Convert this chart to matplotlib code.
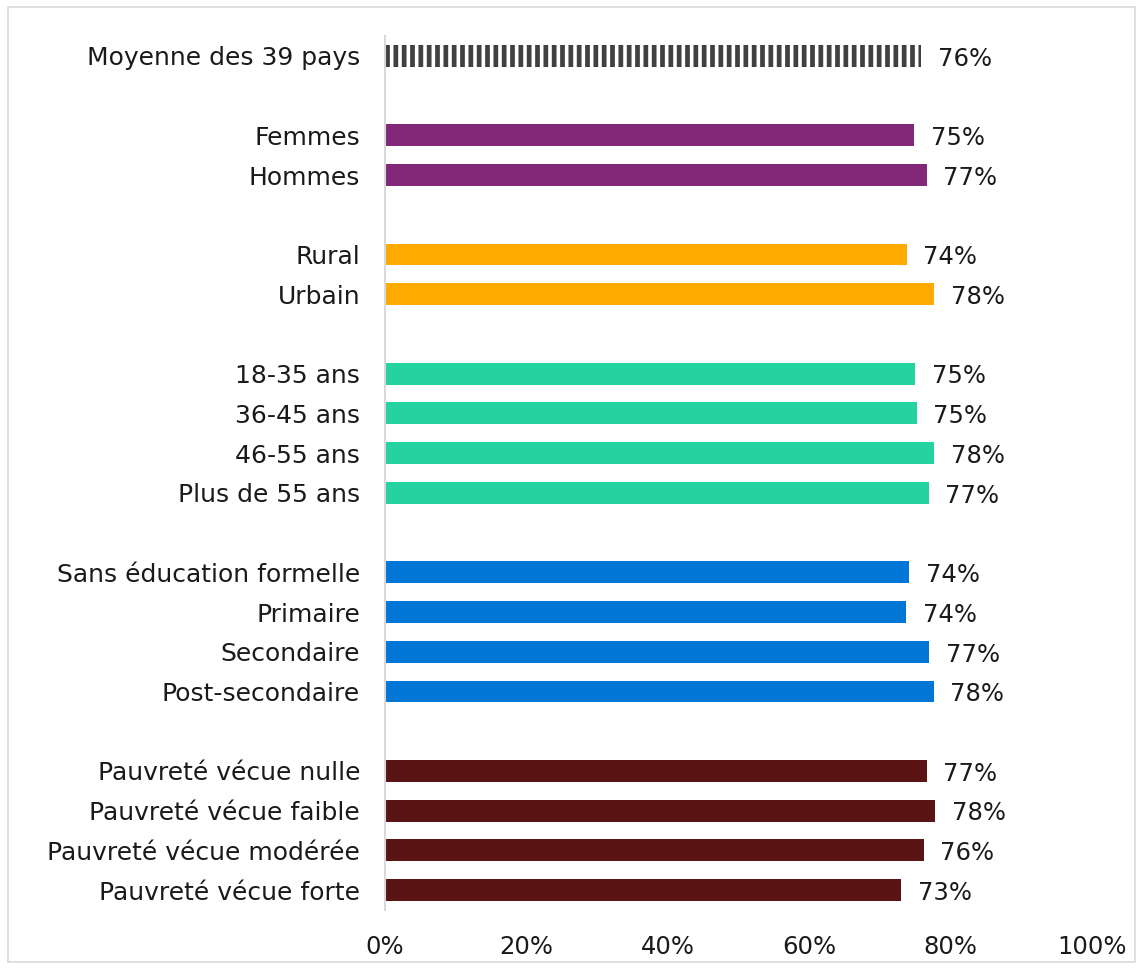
import matplotlib
matplotlib.use("Agg")
import matplotlib.pyplot as plt
from matplotlib.patches import Rectangle

categories = ["Moyenne des 39 pays",
              "Femmes", "Hommes",
              "Rural", "Urbain",
              "18-35 ans", "36-45 ans", "46-55 ans", "Plus de 55 ans",
              "Sans éducation formelle", "Primaire", "Secondaire", "Post-secondaire",
              "Pauvreté vécue nulle", "Pauvreté vécue faible", "Pauvreté vécue modérée", "Pauvreté vécue forte"]
values = [75.8,
          74.8, 76.6,
          73.8, 77.7,
          75.0, 75.2, 77.7, 76.9,
          74.1, 73.7, 77.0, 77.6,
          76.6, 77.8, 76.2, 73.0]
groups = [0, 1, 1, 2, 2, 3, 3, 3, 3, 4, 4, 4, 4, 5, 5, 5, 5]
group_colors = ["white", "#832878", "#FFAA00", "#24D3A0", "#0077D6", "#5A1414"]
xticks = [0, 20, 40, 60, 80, 100]
xtick_labels = ["0%", "20%", "40%", "60%", "80%", "100%"]

plt.rcParams['font.family'] = ['DejaVu Sans']
plt.rcParams['hatch.linewidth'] = 3.4
plt.rcParams['hatch.color'] = '#404040'

fig = plt.figure(figsize=(11.42, 9.69), dpi=100)
fig.patches.append(Rectangle((8/1142, 7/969), 1127/1142, 955/969, transform=fig.transFigure,
                             fill=False, edgecolor="#D9D9D9", linewidth=1.2))
ax = fig.add_axes([385/1142, 1 - 910/969, (1092 - 385)/1142, (910 - 36)/969])

# positions with a blank slot between groups
positions = []
slot = 0
prev = groups[0]
for g in groups:
    if g != prev:
        slot += 1
        prev = g
    positions.append(slot)
    slot += 1

for pos, val, g in zip(positions, values, groups):
    if g == 0:
        ax.barh(pos, val, height=0.55, color="white", edgecolor="#404040", hatch="||", linewidth=0)
    else:
        ax.barh(pos, val, height=0.55, color=group_colors[g], linewidth=0)
    ax.annotate(f"{val:.0f}%", xy=(val, pos), xytext=(12, -2), textcoords="offset points",
                ha="left", va="center", fontsize=17.5, color="#1a1a1a")

ax.set_xlim(0, 100)
ax.set_ylim(max(positions) + 0.5, -0.5)
ax.set_yticks(positions)
ax.set_yticklabels(categories, fontsize=18, color="#1a1a1a")
ax.set_xticks(xticks)
ax.set_xticklabels(xtick_labels, fontsize=17.5, color="#1a1a1a")
ax.tick_params(axis="y", length=0, pad=18)
ax.tick_params(axis="x", length=0, pad=18)
for s in ["top", "right", "bottom"]:
    ax.spines[s].set_visible(False)
ax.spines["left"].set_color("#D9D9D9")
ax.spines["left"].set_linewidth(1.5)

fig.savefig("out.png", dpi=100)
